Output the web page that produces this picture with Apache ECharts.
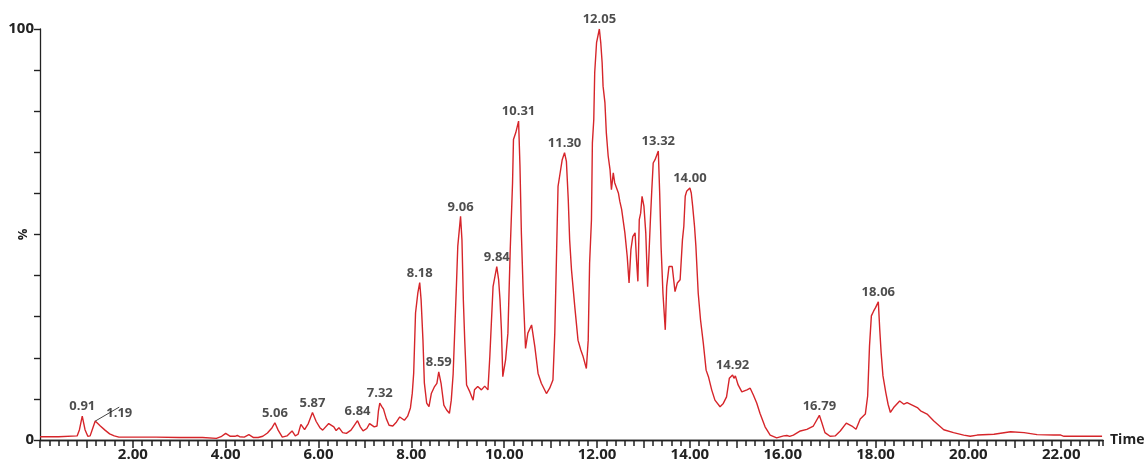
<!DOCTYPE html>
<html>
<head>
<meta charset="utf-8">
<script src="https://cdn.jsdelivr.net/npm/echarts@6/dist/echarts.min.js"></script>
<style>
  html, body { margin: 0; padding: 0; background: #fff; }
  #main { width: 1144px; height: 462px; }
</style>
</head>
<body>
<div id="main"></div>
<script>
// retention time (min)
var times = [
  0, 0.4, 0.8, 0.85, 0.91, 0.97, 1.03, 1.08, 1.14, 1.19,
  1.3, 1.4, 1.5, 1.6, 1.7, 2.0, 2.5, 3.0, 3.5, 3.8,
  3.9, 4.0, 4.1, 4.2, 4.25, 4.3, 4.4, 4.5, 4.6, 4.7,
  4.8, 4.9, 5.0, 5.06, 5.13, 5.22, 5.32, 5.43, 5.5, 5.56,
  5.62, 5.7, 5.78, 5.87, 5.95, 6.03, 6.09, 6.22, 6.33, 6.38,
  6.44, 6.52, 6.6, 6.7, 6.76, 6.84, 6.9, 6.96, 7.04, 7.1,
  7.2, 7.26, 7.29, 7.32, 7.36, 7.4, 7.46, 7.52, 7.6, 7.68,
  7.75, 7.85, 7.92, 7.98, 8.02, 8.05, 8.09, 8.14, 8.18, 8.21,
  8.25, 8.28, 8.33, 8.38, 8.43, 8.5, 8.55, 8.59, 8.64, 8.7,
  8.76, 8.82, 8.86, 8.9, 8.93, 8.97, 9.0, 9.06, 9.09, 9.12,
  9.15, 9.19, 9.26, 9.33, 9.36, 9.43, 9.51, 9.58, 9.65, 9.69,
  9.72, 9.76, 9.84, 9.88, 9.91, 9.94, 9.97, 10.03, 10.08, 10.13,
  10.18, 10.2, 10.25, 10.31, 10.34, 10.37, 10.41, 10.46, 10.51, 10.59,
  10.66, 10.73, 10.8, 10.91, 10.98, 11.05, 11.09, 11.13, 11.16, 11.2,
  11.25, 11.3, 11.34, 11.38, 11.41, 11.45, 11.52, 11.59, 11.65, 11.7,
  11.77, 11.81, 11.84, 11.88, 11.9, 11.93, 11.95, 11.99, 12.05, 12.08,
  12.11, 12.13, 12.17, 12.2, 12.24, 12.28, 12.31, 12.35, 12.38, 12.46,
  12.49, 12.53, 12.6, 12.65, 12.69, 12.73, 12.77, 12.82, 12.85, 12.88,
  12.91, 12.94, 12.97, 13.01, 13.05, 13.09, 13.12, 13.15, 13.18, 13.21,
  13.25, 13.28, 13.32, 13.35, 13.38, 13.42, 13.47, 13.5, 13.55, 13.59,
  13.62, 13.68, 13.73, 13.79, 13.84, 13.87, 13.9, 13.93, 14.0, 14.03,
  14.06, 14.1, 14.13, 14.18, 14.23, 14.29, 14.35, 14.4, 14.47, 14.54,
  14.65, 14.72, 14.79, 14.85, 14.92, 14.95, 14.98, 15.04, 15.12, 15.23,
  15.3, 15.37, 15.44, 15.51, 15.62, 15.73, 15.87, 16.02, 16.09, 16.15,
  16.23, 16.38, 16.52, 16.66, 16.79, 16.84, 16.91, 17.02, 17.13, 17.24,
  17.37, 17.49, 17.58, 17.67, 17.78, 17.83, 17.87, 17.91, 17.96, 18.0,
  18.06, 18.09, 18.12, 18.16, 18.22, 18.27, 18.32, 18.39, 18.52, 18.61,
  18.68, 18.79, 18.9, 18.97, 19.11, 19.25, 19.47, 19.68, 19.9, 20.04,
  20.19, 20.55, 20.91, 21.2, 21.48, 21.84, 21.99, 22.06, 22.35, 22.88
];
// relative intensity (%)
var intensity = [
  0.8, 0.8, 1.0, 2.5, 5.8, 2.5, 0.9, 1.0, 3.0, 4.6,
  3.4, 2.4, 1.5, 1.0, 0.7, 0.7, 0.7, 0.6, 0.6, 0.4,
  0.8, 1.6, 0.9, 0.9, 1.1, 0.8, 0.7, 1.3, 0.6, 0.6,
  0.9, 1.7, 3.0, 4.2, 2.4, 0.7, 1.0, 2.2, 1.0, 1.4,
  3.8, 2.5, 4.0, 6.7, 4.5, 3.0, 2.4, 4.0, 3.2, 2.3,
  3.0, 1.8, 1.6, 2.4, 3.4, 4.7, 3.2, 2.2, 2.8, 4.0,
  3.2, 3.4, 7.0, 9.0, 8.2, 7.5, 5.2, 3.6, 3.4, 4.4,
  5.6, 4.8, 5.8, 7.8, 11.4, 16.2, 30.9, 35.8, 38.3, 34.1,
  24.3, 13.9, 9.0, 8.1, 11.3, 13.0, 13.8, 16.6, 13.8, 8.5,
  7.3, 6.5, 9.7, 16.0, 25.1, 37.3, 47.1, 54.4, 48.7, 34.1,
  24.2, 13.4, 11.7, 9.7, 12.2, 13.0, 12.2, 13.1, 12.2, 20.2,
  27.6, 37.3, 42.2, 39.0, 34.1, 26.8, 15.4, 19.5, 26.0, 46.3,
  62.6, 73.1, 74.8, 77.6, 66.6, 50.4, 35.7, 22.3, 26.0, 28.0,
  22.7, 16.2, 13.8, 11.3, 12.6, 14.6, 26.0, 46.3, 61.7, 64.6,
  68.2, 69.9, 67.8, 58.5, 48.7, 41.4, 32.5, 24.3, 21.9, 20.3,
  17.4, 24.3, 43.0, 53.6, 72.3, 78.0, 89.4, 96.7, 100, 96.7,
  91.8, 86.1, 82.1, 74.8, 69.1, 65.8, 60.9, 65.0, 62.6, 60.1,
  58.1, 56.1, 50.4, 44.7, 38.2, 46.3, 49.5, 50.4, 43.9, 38.6,
  53.6, 55.2, 59.3, 56.9, 50.4, 37.3, 45.5, 53.6, 60.9, 67.4,
  68.2, 68.5, 70.3, 60.0, 47.0, 35.7, 26.8, 37.3, 42.2, 42.6,
  42.2, 36.1, 38.2, 39.0, 48.7, 52.0, 59.3, 60.5, 61.3, 60.1,
  56.9, 52.0, 47.1, 35.7, 29.2, 23.5, 17.0, 15.4, 12.2, 9.7,
  8.1, 8.9, 10.5, 15.0, 15.8, 15.0, 15.6, 13.4, 11.7, 12.2,
  12.6, 10.9, 9.0, 6.5, 3.2, 1.2, 0.5, 1.0, 1.1, 0.9,
  1.2, 2.2, 2.6, 3.4, 6.0, 4.3, 1.8, 0.9, 1.0, 2.2,
  4.1, 3.4, 2.6, 5.1, 6.3, 10.7, 22.9, 30.2, 31.4, 32.2,
  33.6, 27.0, 21.3, 15.6, 11.6, 8.7, 6.7, 7.9, 9.5, 8.7,
  9.1, 8.5, 7.9, 7.1, 6.3, 4.7, 2.5, 1.8, 1.2, 0.9,
  1.2, 1.4, 2.0, 1.8, 1.3, 1.2, 1.2, 0.9, 0.9, 0.9
];
// labelled peaks
var peakTimes = [0.91, 1.19, 5.06, 5.87, 6.84, 7.32, 8.18, 8.59, 9.06, 9.84,
                 10.31, 11.30, 12.05, 13.32, 14.00, 14.92, 16.79, 18.06];
var peakHeights = [5.8, 4.6, 4.2, 6.7, 4.7, 9.0, 38.3, 16.6, 54.4, 42.2,
                   77.6, 69.9, 100, 70.3, 61.3, 15.8, 6.0, 33.6];
var xTickLabels = [2, 4, 6, 8, 10, 12, 14, 16, 18, 20, 22];

var textColor = '#222';
var axisColor = '#222';
var font = 'Open Sans';

var lineData = times.map(function (t, i) { return [t, intensity[i]]; });
// only the 1.19 label is pushed aside and gets a leader line
var peakData = peakTimes.map(function (t, i) {
  return { value: [t, peakHeights[i]], labelLine: { show: i === 1 } };
});

var myChart = echarts.init(document.getElementById('main'));
myChart.setOption({
  animation: false,
  grid: { left: 40, right: 41, top: 29, bottom: 22, containLabel: false, outerBoundsMode: 'none' },
  xAxis: [
    {
      type: 'value',
      min: 0,
      max: 22.9,
      interval: 1,
      name: 'Time',
      nameLocation: 'end',
      nameGap: 7,
      nameTextStyle: { color: textColor, fontFamily: font, fontSize: 14, fontWeight: 'bold', verticalAlign: 'middle' },
      axisLine: { show: true, onZero: false, lineStyle: { color: axisColor, width: 1.3 } },
      axisTick: { show: true, inside: false, length: 8, lineStyle: { color: axisColor, width: 1.5 } },
      splitLine: { show: false },
      axisLabel: {
        margin: 7,
        color: textColor,
        fontFamily: font,
        fontSize: 15,
        fontWeight: 'bold',
        showMaxLabel: false,
        formatter: function (v) {
          return xTickLabels.indexOf(v) >= 0 ? v.toFixed(2) : '';
        }
      }
    },
    {
      // small ticks every 0.2 min
      type: 'value',
      position: 'bottom',
      min: 0,
      max: 22.9,
      interval: 0.2,
      axisLine: { show: true, onZero: false, lineStyle: { color: axisColor, width: 1.3 } },
      axisTick: { show: true, inside: false, length: 6, lineStyle: { color: axisColor, width: 1.5 } },
      axisLabel: { show: false },
      splitLine: { show: false }
    }
  ],
  yAxis: {
    type: 'value',
    min: 0,
    max: 100,
    interval: 10,
    name: '%',
    nameLocation: 'middle',
    nameRotate: 90,
    nameGap: 10,
    nameMoveOverlap: false,
    nameTextStyle: { color: textColor, fontFamily: font, fontSize: 13, fontWeight: 'bold' },
    axisLine: { show: true, lineStyle: { color: axisColor, width: 1.3 } },
    axisTick: { show: true, length: 6, lineStyle: { color: axisColor, width: 1.4 } },
    splitLine: { show: false },
    axisLabel: {
      margin: 6,
      color: textColor,
      fontFamily: font,
      fontSize: 15,
      fontWeight: 'bold',
      formatter: function (v) { return (v === 0 || v === 100) ? String(v) : ''; }
    }
  },
  series: [
    {
      type: 'line',
      data: lineData,
      symbol: 'none',
      lineStyle: { color: '#d6252a', width: 1.4 },
      z: 2
    },
    {
      type: 'scatter',
      data: peakData,
      symbolSize: 0,
      silent: true,
      label: {
        show: true,
        position: 'top',
        distance: 3,
        color: textColor,
        fontFamily: font,
        fontSize: 13,
        fontWeight: 'bold',
        formatter: function (p) { return p.value[0].toFixed(2); }
      },
      labelLine: { show: false, length2: 0, lineStyle: { color: '#444', width: 1 } },
      labelLayout: function (p) {
        if (p.dataIndex === 1) { return { dx: 24, dy: 2 }; }
        return {};
      },
      z: 3
    }
  ]
});
</script>
</body>
</html>
